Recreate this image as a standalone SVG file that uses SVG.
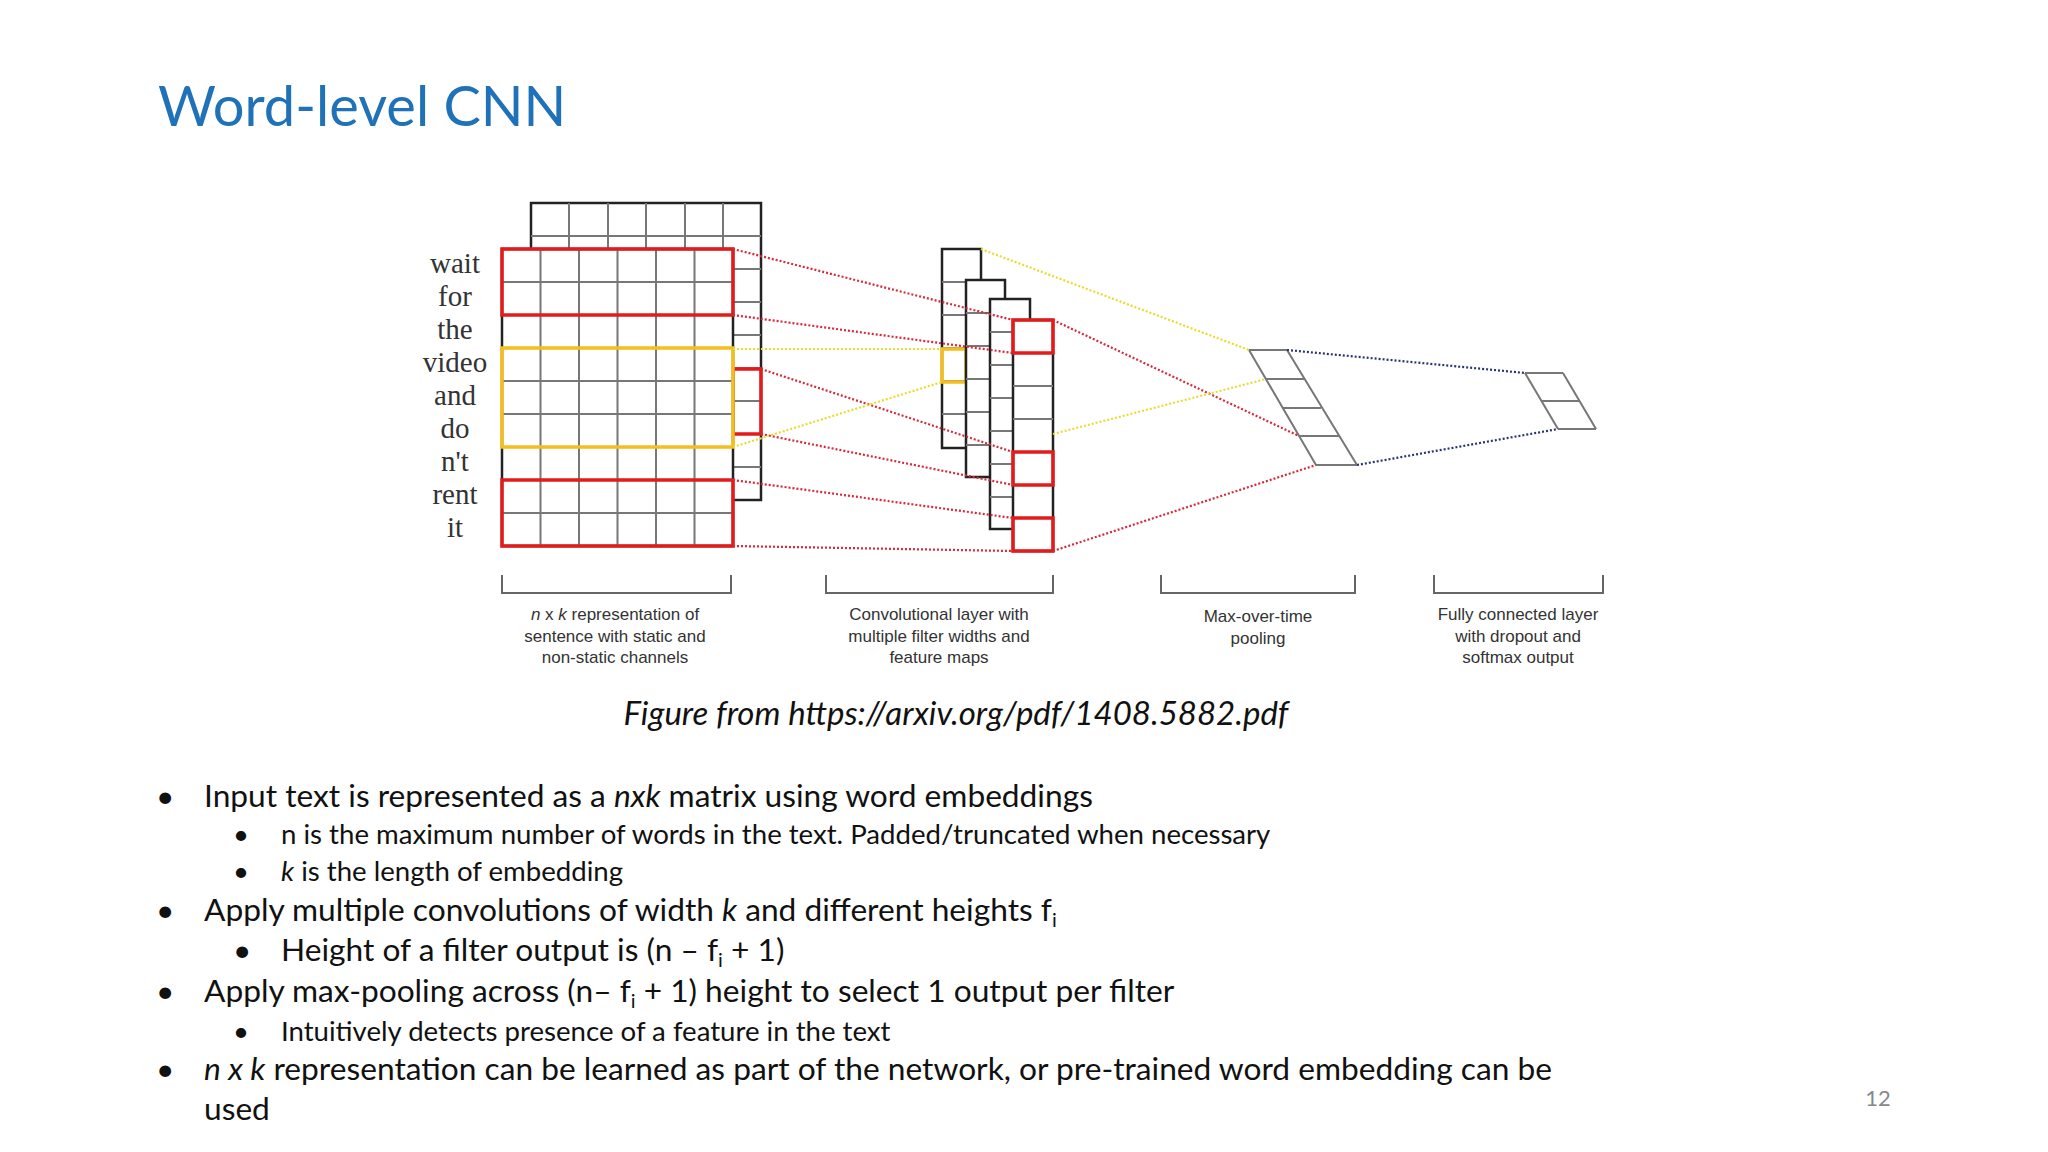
<svg xmlns="http://www.w3.org/2000/svg" width="2048" height="1152" viewBox="0 0 2048 1152">
<style>
.g{stroke:#777;stroke-width:2;fill:none}
.k{stroke:#222;stroke-width:2.5;fill:#fff}
.r{stroke:#e31b1b;stroke-width:3.5;fill:none}
.y{stroke:#f5be1e;stroke-width:3.5;fill:none}
.dr{stroke:#d8283a;stroke-width:2.2;stroke-dasharray:2 2;fill:none}
.dy{stroke:#e8dc2a;stroke-width:2.2;stroke-dasharray:2 2;fill:none}
.dn{stroke:#2a3470;stroke-width:2.2;stroke-dasharray:2 2;fill:none}
.w{font-family:"Liberation Serif",serif;font-size:29px;fill:#333;text-anchor:middle}
.lb{font-family:"Liberation Sans",sans-serif;font-size:17px;fill:#333;text-anchor:middle}
.t{font-family:Lato,"Open Sans",sans-serif;fill:#111}
.b1{font-size:31.7px}
.b2{font-size:27.6px}
.br{stroke:#666;stroke-width:2;fill:none}
</style>
<rect width="2048" height="1152" fill="#fff"/>
<text x="158" y="126" font-family="Lato,'Open Sans',sans-serif" font-size="56" fill="#1f72b8">Word-level CNN</text>

<g id="back-matrix">
<rect x="531" y="203" width="230" height="297" class="k"/>
<path class="g" d="M569 203V249M608 203V249M646 203V249M685 203V249M723 203V249M531 236H761M733 269H761M733 302H761M733 335H761M733 368H761M733 401H761M733 434H761M733 467H761"/>
<rect x="733" y="369" width="28" height="65" class="r"/>
</g>
<g id="input-matrix">
<rect x="502" y="249" width="231" height="297" fill="#fff" stroke="#222" stroke-width="2.5"/>
<path class="g" d="M540.5 249V546M579 249V546M617.5 249V546M656 249V546M694.5 249V546M502 282H733M502 315H733M502 348H733M502 381H733M502 414H733M502 447H733M502 480H733M502 513H733"/>
<rect x="502" y="249" width="231" height="66" class="r"/>
<rect x="502" y="348" width="231" height="99" class="y"/>
<rect x="502" y="480" width="231" height="66" class="r"/>
</g>
<g id="words">
<text class="w" x="455" y="273">wait</text>
<text class="w" x="455" y="306">for</text>
<text class="w" x="455" y="339">the</text>
<text class="w" x="455" y="372">video</text>
<text class="w" x="455" y="405">and</text>
<text class="w" x="455" y="438">do</text>
<text class="w" x="455" y="471">n't</text>
<text class="w" x="455" y="504">rent</text>
<text class="w" x="455" y="537">it</text>
</g>
<g id="feature-maps">
<rect x="942" y="249" width="39" height="199" class="k"/>
<path class="g" d="M942 282H966M942 315H966M942 348H966M942 381H966M942 414H966"/>
<rect x="942" y="349" width="24" height="33" class="y"/>
<rect x="966" y="280" width="39" height="197" class="k"/>
<path class="g" d="M966 313H990M966 346H990M966 379H990M966 412H990M966 445H990"/>
<rect x="990" y="299" width="40" height="230" class="k"/>
<path class="g" d="M990 332H1013M990 365H1013M990 398H1013M990 431H1013M990 464H1013M990 497H1013"/>
<rect x="1013" y="320" width="40" height="231" class="k"/>
<path class="g" d="M1013 353H1053M1013 386H1053M1013 419H1053M1013 452H1053M1013 485H1053M1013 518H1053"/>
<rect x="1013" y="320" width="40" height="33" class="r"/>
<rect x="1013" y="452" width="40" height="33" class="r"/>
<rect x="1013" y="518" width="40" height="33" class="r"/>
</g>
<g id="pooling">
<path class="g" d="M1249 350L1316 465M1287 350L1357 465M1249 350H1287M1266 379H1304M1283 408H1321M1299 436H1340M1316 465H1357"/>
</g>
<g id="fc">
<path class="g" d="M1525 373L1558 429M1563 373L1596 429M1525 373H1563M1541 401H1579M1558 429H1596"/>
</g>
<g id="connectors">
<path class="dr" d="M733 249L1013 320M733 315L1013 353M761 369L1013 452M761 434L1013 485M733 480L1013 518M733 546L1013 551M1053 320L1299 436M1053 551L1316 465"/>
<path class="dy" d="M733 349H942M733 447L942 382M981 249L1249 350M1053 434L1266 379"/>
<path class="dn" d="M1287 350L1525 373M1357 465L1558 429"/>
</g>
<g id="brackets">
<path class="br" d="M502 575V593H731V575M826 575V593H1053V575M1161 575V593H1355V575M1434 575V593H1603V575"/>
<text class="lb" x="615" y="620"><tspan font-style="italic">n</tspan> x <tspan font-style="italic">k</tspan> representation of</text>
<text class="lb" x="615" y="642">sentence with static and</text>
<text class="lb" x="615" y="663">non-static channels</text>
<text class="lb" x="939" y="620">Convolutional layer with</text>
<text class="lb" x="939" y="642">multiple filter widths and</text>
<text class="lb" x="939" y="663">feature maps</text>
<text class="lb" x="1258" y="622">Max-over-time</text>
<text class="lb" x="1258" y="644">pooling</text>
<text class="lb" x="1518" y="620">Fully connected layer</text>
<text class="lb" x="1518" y="642">with dropout and</text>
<text class="lb" x="1518" y="663">softmax output</text>
</g>
<text class="t" x="956" y="725" font-size="33" font-style="italic" text-anchor="middle">Figure from https://arxiv.org/pdf/1408.5882.pdf</text>
<g class="t">
<text class="b1" x="156" y="807">•</text><text class="b1" x="204" y="807">Input text is represented as a <tspan font-style="italic">nxk</tspan> matrix using word embeddings</text>
<text class="b2" x="233" y="844">•</text><text class="b2" x="281" y="844">n is the maximum number of words in the text. Padded/truncated when necessary</text>
<text class="b2" x="233" y="881">•</text><text class="b2" x="281" y="881"><tspan font-style="italic">k</tspan> is the length of embedding</text>
<text class="b1" x="156" y="921">•</text><text class="b1" x="204" y="921">Apply multiple convolutions of width <tspan font-style="italic">k</tspan> and different heights f<tspan font-size="20" dy="6">i</tspan></text>
<text class="b1" x="233" y="961">•</text><text class="b1" x="281" y="961">Height of a filter output is (n – f<tspan font-size="20" dy="6">i</tspan><tspan dy="-6"> + 1)</tspan></text>
<text class="b1" x="156" y="1002">•</text><text class="b1" x="204" y="1002">Apply max-pooling across (n– f<tspan font-size="20" dy="6">i</tspan><tspan dy="-6"> + 1) height to select 1 output per filter</tspan></text>
<text class="b2" x="233" y="1041">•</text><text class="b2" x="281" y="1041">Intuitively detects presence of a feature in the text</text>
<text class="b1" x="156" y="1080">•</text><text class="b1" x="204" y="1080"><tspan font-style="italic">n x k</tspan> representation can be learned as part of the network, or pre-trained word embedding can be</text>
<text class="b1" x="204" y="1120">used</text>
</g>
<text x="1878" y="1106" font-family="Lato,sans-serif" font-size="22" fill="#888" text-anchor="middle">12</text>
</svg>
